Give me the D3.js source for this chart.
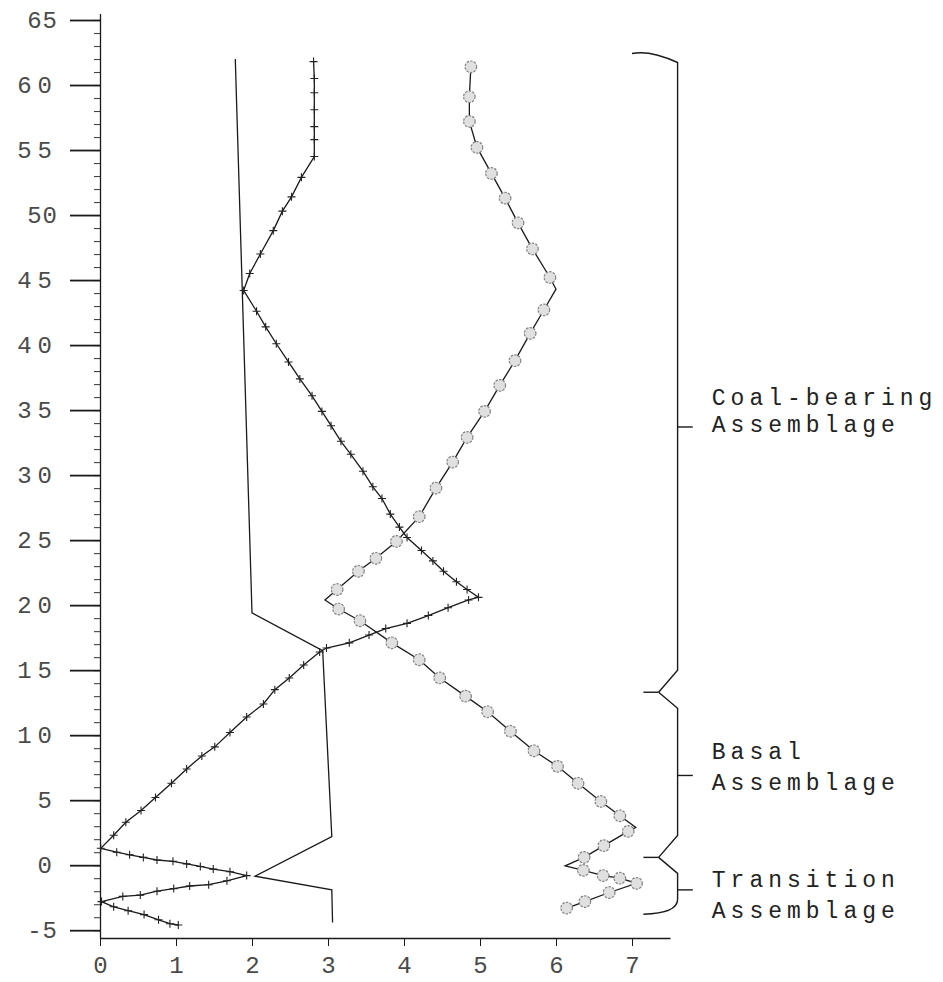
<!DOCTYPE html>
<html>
<head>
<meta charset="utf-8">
<script src="https://cdn.jsdelivr.net/npm/d3@7"></script>
<style>
  html, body { margin: 0; padding: 0; background: #fff; }
  svg { display: block; }
  .tick-label { font-family: "Liberation Mono", monospace; font-size: 24px; fill: #4a4a4a; }
  .brace-label { font-family: "Liberation Mono", monospace; font-size: 23px; fill: #222; letter-spacing: 5px; }
</style>
</head>
<body>
<svg id="chart" width="943" height="982"></svg>
<script>
// plain line, no markers: [value, depth]
const plainSeries = [
  [1.78, 62.0], [2.0, 19.4], [2.93, 16.5], [3.05, 2.2],
  [2.04, -0.85], [3.05, -1.9], [3.06, -4.4]
];

// cross-marked series: [value, depth]
const crossSeries = [
  [2.81, 61.8], [2.82, 60.5], [2.82, 59.4], [2.82, 58.1], [2.82, 56.8], [2.82, 55.8],
  [2.82, 54.5], [2.65, 52.9], [2.52, 51.4], [2.40, 50.3], [2.28, 48.8], [2.11, 47.0],
  [1.97, 45.5], [1.89, 44.2], [2.06, 42.6], [2.18, 41.4], [2.32, 40.1], [2.48, 38.7],
  [2.63, 37.4], [2.79, 36.1], [2.92, 34.9], [3.04, 33.8], [3.17, 32.6], [3.30, 31.6],
  [3.46, 30.3], [3.59, 29.1], [3.71, 28.2], [3.82, 27.0], [3.94, 26.0], [4.04, 25.2],
  [4.23, 24.2], [4.38, 23.4], [4.52, 22.6], [4.69, 21.8], [4.83, 21.2], [4.98, 20.6],
  [4.85, 20.4], [4.58, 19.8], [4.32, 19.2], [4.04, 18.6], [3.76, 18.2], [3.54, 17.7],
  [3.28, 17.1], [2.98, 16.7], [2.89, 16.4], [2.68, 15.4], [2.49, 14.4], [2.30, 13.5],
  [2.15, 12.4], [1.93, 11.4], [1.71, 10.2], [1.51, 9.1], [1.34, 8.4], [1.14, 7.4],
  [0.94, 6.3], [0.73, 5.2], [0.54, 4.2], [0.34, 3.3], [0.18, 2.3], [0.01, 1.3],
  [0.22, 1.0], [0.39, 0.8], [0.57, 0.6], [0.75, 0.4], [0.96, 0.3], [1.14, 0.1],
  [1.32, -0.1], [1.49, -0.3], [1.71, -0.5], [1.93, -0.8], [1.67, -1.2], [1.43, -1.5],
  [1.18, -1.6], [0.97, -1.8], [0.75, -2.0], [0.53, -2.3], [0.30, -2.4], [0.02, -2.8],
  [0.18, -3.2], [0.37, -3.5], [0.58, -3.8], [0.77, -4.2], [0.92, -4.5], [1.03, -4.6]
];

// circle-marked series: [value, depth, has circle]
const circleSeries = [
  [4.88, 61.4, 1], [4.86, 59.1, 1], [4.86, 57.2, 1], [4.96, 55.2, 1], [5.15, 53.2, 1],
  [5.33, 51.3, 1], [5.50, 49.4, 1], [5.69, 47.4, 1], [5.92, 45.2, 1], [6.00, 44.3, 0],
  [5.84, 42.7, 1], [5.66, 40.9, 1], [5.46, 38.8, 1], [5.26, 36.9, 1], [5.06, 34.9, 1],
  [4.83, 32.9, 1], [4.64, 31.0, 1], [4.42, 29.0, 1], [4.20, 26.8, 1], [3.90, 24.9, 1],
  [3.63, 23.6, 1], [3.40, 22.6, 1], [3.12, 21.2, 1], [2.96, 20.4, 0], [3.14, 19.7, 1],
  [3.42, 18.8, 1], [3.84, 17.1, 1], [4.20, 15.8, 1], [4.47, 14.4, 1], [4.81, 13.0, 1],
  [5.10, 11.8, 1], [5.40, 10.3, 1], [5.71, 8.8, 1], [6.02, 7.6, 1], [6.29, 6.3, 1],
  [6.59, 4.9, 1], [6.84, 3.8, 1], [7.05, 2.9, 0], [6.95, 2.6, 1], [6.63, 1.5, 1],
  [6.37, 0.6, 1], [6.12, -0.05, 0], [6.36, -0.4, 1], [6.62, -0.8, 1], [6.84, -1.0, 1],
  [7.06, -1.4, 1], [6.70, -2.1, 1], [6.38, -2.8, 1], [6.14, -3.3, 1]
];

const xTicks = [0, 1, 2, 3, 4, 5, 6, 7];
const yMajorTicks = [-5, 0, 5, 10, 15, 20, 25, 30, 35, 40, 45, 50, 55, 60, 65];
const yMinorTicks = d3.range(-5, 66, 1);

// depth ranges of the assemblages, with label line depths
const braces = [
  { lines: ['Coal-bearing', 'Assemblage'], top: 62.5, bottom: 13.3, tip: 33.7, at: [35.4, 33.3] },
  { lines: ['Basal', 'Assemblage'], top: 13.3, bottom: 0.6, tip: 6.9, at: [8.2, 5.8] },
  { lines: ['Transition', 'Assemblage'], top: 0.6, bottom: -3.7, tip: -1.9, at: [-1.7, -4.1] }
];

const svg = d3.select('#chart');
const x = d3.scaleLinear().domain([0, 7.5]).range([100, 670]);
const y = d3.scaleLinear().domain([-5.6, 65.5]).range([938, 13.5]);

const ink = '#1a1a1a';

// x axis
const xAxis = svg.append('g')
  .attr('transform', `translate(0,${y(-5.6)})`)
  .call(d3.axisBottom(x).tickValues(xTicks).tickSize(8).tickSizeOuter(0).tickPadding(10)
    .tickFormat(d3.format('d')));
xAxis.select('.domain').attr('stroke', ink).attr('stroke-width', 1.3);
xAxis.selectAll('.tick line').attr('stroke', ink).attr('stroke-width', 1);
xAxis.selectAll('.tick text').attr('class', 'tick-label').attr('font-size', null).attr('font-family', null);

// y axis: minor ticks
const yMinor = svg.append('g')
  .attr('transform', `translate(${x(0)},0)`)
  .call(d3.axisLeft(y).tickValues(yMinorTicks).tickSize(6).tickSizeOuter(0).tickFormat(''));
yMinor.select('.domain').attr('stroke', ink).attr('stroke-width', 1.3);
yMinor.selectAll('.tick line').attr('stroke', '#444').attr('stroke-width', 1.1);

// y axis: major ticks with labels
const yMajor = svg.append('g')
  .attr('transform', `translate(${x(0)},0)`)
  .call(d3.axisLeft(y).tickValues(yMajorTicks).tickSize(30).tickSizeOuter(0).tickPadding(12)
    .tickFormat(d => (d < 0 ? '-' + Math.abs(d) : String(d))));
yMajor.select('.domain').remove();
yMajor.selectAll('.tick line').attr('stroke', ink).attr('stroke-width', 1.8);
yMajor.selectAll('.tick text')
  .attr('class', 'tick-label')
  .attr('font-size', null).attr('font-family', null)
  .style('letter-spacing', d => (d === 65 || d === 50 || d < 0 ? '1px' : '6px'));

// series lines
const line = d3.line().x(d => x(d[0])).y(d => y(d[1]));

svg.append('path').datum(plainSeries)
  .attr('d', line).attr('fill', 'none').attr('stroke', ink).attr('stroke-width', 1.3);

svg.append('path').datum(crossSeries)
  .attr('d', line).attr('fill', 'none').attr('stroke', ink).attr('stroke-width', 1.3);

svg.append('path').datum(circleSeries)
  .attr('d', line).attr('fill', 'none').attr('stroke', ink).attr('stroke-width', 1.3);

// cross markers
svg.append('g').selectAll('path')
  .data(crossSeries)
  .join('path')
  .attr('d', d => {
    const cx = x(d[0]), cy = y(d[1]);
    return `M${cx - 4},${cy}H${cx + 4}M${cx},${cy - 4}V${cy + 4}`;
  })
  .attr('stroke', '#222')
  .attr('stroke-width', 1.1)
  .attr('fill', 'none');

// circle markers
svg.append('g').selectAll('circle')
  .data(circleSeries.filter(d => d[2]))
  .join('circle')
  .attr('cx', d => x(d[0]))
  .attr('cy', d => y(d[1]))
  .attr('r', 5.8)
  .attr('fill', '#e0e0e0')
  .attr('stroke', '#858585')
  .attr('stroke-width', 1.2)
  .attr('stroke-dasharray', '2.5 1.2');

// braces
const xv = x(7.6), xj = x(7.35), xs = x(7.15), xt = x(7.8), xText = x(8.05);
const bg = svg.append('g').attr('fill', 'none').attr('stroke', ink).attr('stroke-width', 1.4);

braces.forEach((b, i) => {
  const yt = y(b.top), yb = y(b.bottom);
  const p = d3.path();
  if (i === 0) {
    p.moveTo(x(7.0), yt + 1);
    p.bezierCurveTo(x(7.2), yt - 2, x(7.4), yt + 3, xv, yt + 10);
  } else {
    p.moveTo(xj, yt);
    p.lineTo(xv, yt + 16);
  }
  if (i === braces.length - 1) {
    p.lineTo(xv, yb - 14);
    p.quadraticCurveTo(xv, yb, x(7.15), yb + 1);
  } else {
    p.lineTo(xv, yb - 22);
    p.lineTo(xj, yb);
    bg.append('line').attr('x1', xs).attr('x2', xj).attr('y1', yb).attr('y2', yb);
  }
  bg.append('path').attr('d', p.toString());
  bg.append('line').attr('x1', xv).attr('x2', xt).attr('y1', y(b.tip)).attr('y2', y(b.tip));

  b.lines.forEach((t, k) => {
    svg.append('text')
      .attr('class', 'brace-label')
      .attr('x', xText)
      .attr('y', y(b.at[k]))
      .text(t);
  });
});
</script>
</body>
</html>
